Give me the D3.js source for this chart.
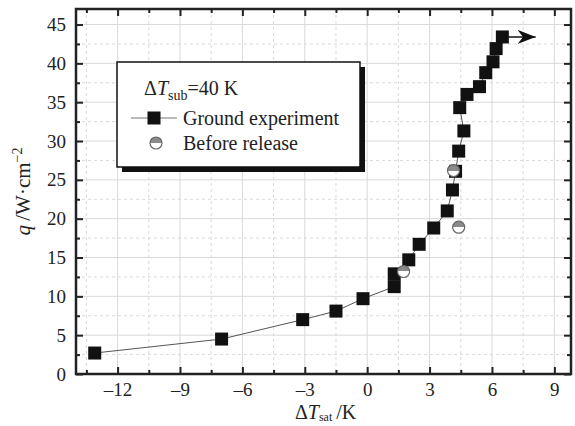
<!DOCTYPE html>
<html>
<head>
<meta charset="utf-8">
<script src="https://cdn.jsdelivr.net/npm/d3@7"></script>
<style>
  body { margin: 0; background: #fff; }
  svg { font-family: "Liberation Serif", "DejaVu Serif", serif; }
  .grid line { stroke: #d9d9d9; }
  .grid .minor { stroke-dasharray: 3,3; }
</style>
</head>
<body>
<div class="chartdiv"></div>
<script>
// ground experiment (squares)
var groundX = [-13.1, -7.0, -3.1, -1.5, -0.2, 1.3, 1.3, 2.0, 2.5, 3.2, 3.85, 4.1, 4.25, 4.4, 4.65, 4.45, 4.8, 5.4, 5.7, 6.05, 6.2, 6.5];
var groundY = [2.7, 4.5, 7.0, 8.1, 9.7, 11.25, 12.9, 14.7, 16.7, 18.8, 21.0, 23.7, 26.1, 28.7, 31.3, 34.3, 36.0, 37.0, 38.8, 40.2, 41.9, 43.4];
// before release (half circles)
var releaseX = [1.75, 4.15, 4.4];
var releaseY = [13.2, 26.2, 18.9];

var xTicks = [-12, -9, -6, -3, 0, 3, 6, 9];
var yTicks = [0, 5, 10, 15, 20, 25, 30, 35, 40, 45];

var margin = {top: 9, right: 4, bottom: 52, left: 76};
var width = 575 - margin.left - margin.right;
var height = 426 - margin.top - margin.bottom;

var x = d3.scaleLinear().domain([-14, 9.8]).range([0, width]);
var y = d3.scaleLinear().domain([0, 47]).range([height, 0]);

var svg = d3.select(".chartdiv")
    .append("svg")
    .attr("width", 575)
    .attr("height", 426)
  .append("g")
    .attr("transform", "translate(" + margin.left + "," + margin.top + ")");

var defs = svg.append("defs");
defs.append("marker")
    .attr("id", "arrowhead")
    .attr("viewBox", "0 0 10 10")
    .attr("refX", 10).attr("refY", 5)
    .attr("markerWidth", 18).attr("markerHeight", 14)
    .attr("markerUnits", "userSpaceOnUse")
    .attr("orient", "auto")
    .attr("preserveAspectRatio", "none")
  .append("path")
    .attr("d", "M0,0 L10,5 L0,10 L3,5 Z")
    .attr("fill", "#111");
var grad = defs.append("linearGradient")
    .attr("id", "half").attr("x1", 0).attr("y1", 0).attr("x2", 0).attr("y2", 1);
grad.append("stop").attr("offset", "50%").attr("stop-color", "#8a8a8a");
grad.append("stop").attr("offset", "50%").attr("stop-color", "#fff");

// grid
var minorX = d3.range(-13.5, 9.8, 1.5).filter(function(d) { return Math.abs(d % 3) > 0.1; });
var minorY = d3.range(2.5, 47, 5);
var grid = svg.append("g").classed("grid", true);
grid.selectAll("line.vx").data(xTicks).enter().append("line")
    .attr("x1", x).attr("x2", x).attr("y1", 0).attr("y2", height);
grid.selectAll("line.mx").data(minorX).enter().append("line").classed("minor", true)
    .attr("x1", x).attr("x2", x).attr("y1", 0).attr("y2", height);
grid.selectAll("line.hy").data(yTicks.slice(1)).enter().append("line")
    .attr("y1", y).attr("y2", y).attr("x1", 0).attr("x2", width);
grid.selectAll("line.my").data(minorY).enter().append("line").classed("minor", true)
    .attr("y1", y).attr("y2", y).attr("x1", 0).attr("x2", width);

// axes (ticks inward)
function fmt(d) { return d < 0 ? "\u2013" + Math.abs(d) : d; }
svg.append("g").attr("transform", "translate(0," + height + ")")
    .call(d3.axisBottom(x).tickValues(xTicks).tickSizeInner(-7).tickSizeOuter(0).tickPadding(9).tickFormat(fmt));
svg.append("g")
    .call(d3.axisTop(x).tickValues(xTicks).tickSizeInner(-7).tickSizeOuter(0).tickFormat(""));
svg.append("g")
    .call(d3.axisLeft(y).tickValues(yTicks).tickSizeInner(-7).tickSizeOuter(0).tickPadding(10));
svg.append("g").attr("transform", "translate(" + width + ",0)")
    .call(d3.axisRight(y).tickValues(yTicks).tickSizeInner(-7).tickSizeOuter(0).tickFormat(""));
// minor ticks
svg.append("g").attr("transform", "translate(0," + height + ")")
    .call(d3.axisBottom(x).tickValues(minorX).tickSizeInner(-4).tickSizeOuter(0).tickFormat(""));
svg.append("g")
    .call(d3.axisTop(x).tickValues(minorX).tickSizeInner(-4).tickSizeOuter(0).tickFormat(""));
svg.append("g")
    .call(d3.axisLeft(y).tickValues(minorY).tickSizeInner(-4).tickSizeOuter(0).tickFormat(""));
svg.append("g").attr("transform", "translate(" + width + ",0)")
    .call(d3.axisRight(y).tickValues(minorY).tickSizeInner(-4).tickSizeOuter(0).tickFormat(""));

svg.selectAll(".domain").remove();
svg.selectAll(".tick line").attr("stroke", "#222").attr("stroke-width", 2);
svg.selectAll(".tick text")
    .style("font-family", "Liberation Serif, serif")
    .style("font-size", "19px")
    .attr("fill", "#222");

svg.append("rect")
    .attr("width", width).attr("height", height)
    .attr("fill", "none").attr("stroke", "#222").attr("stroke-width", 2.5);

// axis titles
var yt = svg.append("text")
    .attr("transform", "translate(-46," + (height / 2) + ") rotate(-90)")
    .attr("text-anchor", "middle")
    .style("font-size", "21px")
    .attr("fill", "#222");
yt.append("tspan").style("font-style", "italic").text("q");
yt.append("tspan").text("\u2009/W\u00b7cm");
yt.append("tspan").attr("dy", -8).style("font-size", "14px").text("\u22122");

var xt = svg.append("text")
    .attr("x", x(-2.0)).attr("y", height + 45)
    .attr("text-anchor", "middle")
    .style("font-size", "20px")
    .attr("fill", "#222");
xt.append("tspan").text("\u0394");
xt.append("tspan").style("font-style", "italic").text("T");
xt.append("tspan").attr("dy", 2).style("font-size", "12px").text("sat");
xt.append("tspan").attr("dy", -2).text("\u2009/K");

// data line + arrow
var pts = groundX.map(function(d, i) { return [d, groundY[i]]; });
var line = d3.line().x(function(d) { return x(d[0]); }).y(function(d) { return y(d[1]); });
svg.append("path")
    .datum(pts)
    .attr("d", line)
    .attr("fill", "none").attr("stroke", "#555").attr("stroke-width", 1);

var last = pts[pts.length - 1];
svg.append("line")
    .attr("x1", x(last[0])).attr("y1", y(last[1]))
    .attr("x2", x(8.1)).attr("y2", y(last[1]))
    .attr("stroke", "#111").attr("stroke-width", 1.5)
    .attr("marker-end", "url(#arrowhead)");

var sq = 13;
svg.selectAll("rect.sq").data(pts).enter().append("rect")
    .attr("x", function(d) { return x(d[0]) - sq / 2; })
    .attr("y", function(d) { return y(d[1]) - sq / 2; })
    .attr("width", sq).attr("height", sq)
    .attr("fill", "#111");

svg.selectAll("circle.rel").data(releaseX).enter().append("circle")
    .attr("cx", function(d) { return x(d); })
    .attr("cy", function(d, i) { return y(releaseY[i]); })
    .attr("r", 6)
    .attr("fill", "url(#half)")
    .attr("stroke", "#666").attr("stroke-width", 1.2);

// legend
var lg = svg.append("g").attr("transform", "translate(" + (117 - margin.left) + "," + (62 - margin.top) + ")");
lg.append("rect").attr("x", 5).attr("y", 5).attr("width", 243).attr("height", 105).attr("fill", "#111");
lg.append("rect").attr("width", 243).attr("height", 105).attr("fill", "#fff")
    .attr("stroke", "#111").attr("stroke-width", 1.5);
var t1 = lg.append("text").attr("x", 27).attr("y", 33).style("font-size", "20px").attr("fill", "#222");
t1.append("tspan").text("\u0394");
t1.append("tspan").style("font-style", "italic").text("T");
t1.append("tspan").attr("dy", 5).style("font-size", "14px").text("sub");
t1.append("tspan").attr("dy", -5).text("=40 K");
lg.append("line").attr("x1", 14).attr("x2", 60).attr("y1", 56).attr("y2", 56)
    .attr("stroke", "#777").attr("stroke-width", 1.2);
lg.append("rect").attr("x", 30.5).attr("y", 49.5).attr("width", sq).attr("height", sq).attr("fill", "#111");
lg.append("text").attr("x", 66).attr("y", 63).style("font-size", "20px").attr("fill", "#222").text("Ground experiment");
lg.append("circle").attr("cx", 39).attr("cy", 81).attr("r", 6)
    .attr("fill", "url(#half)").attr("stroke", "#666").attr("stroke-width", 1.2);
lg.append("text").attr("x", 66).attr("y", 88).style("font-size", "20px").attr("fill", "#222").text("Before release");
</script>
</body>
</html>
